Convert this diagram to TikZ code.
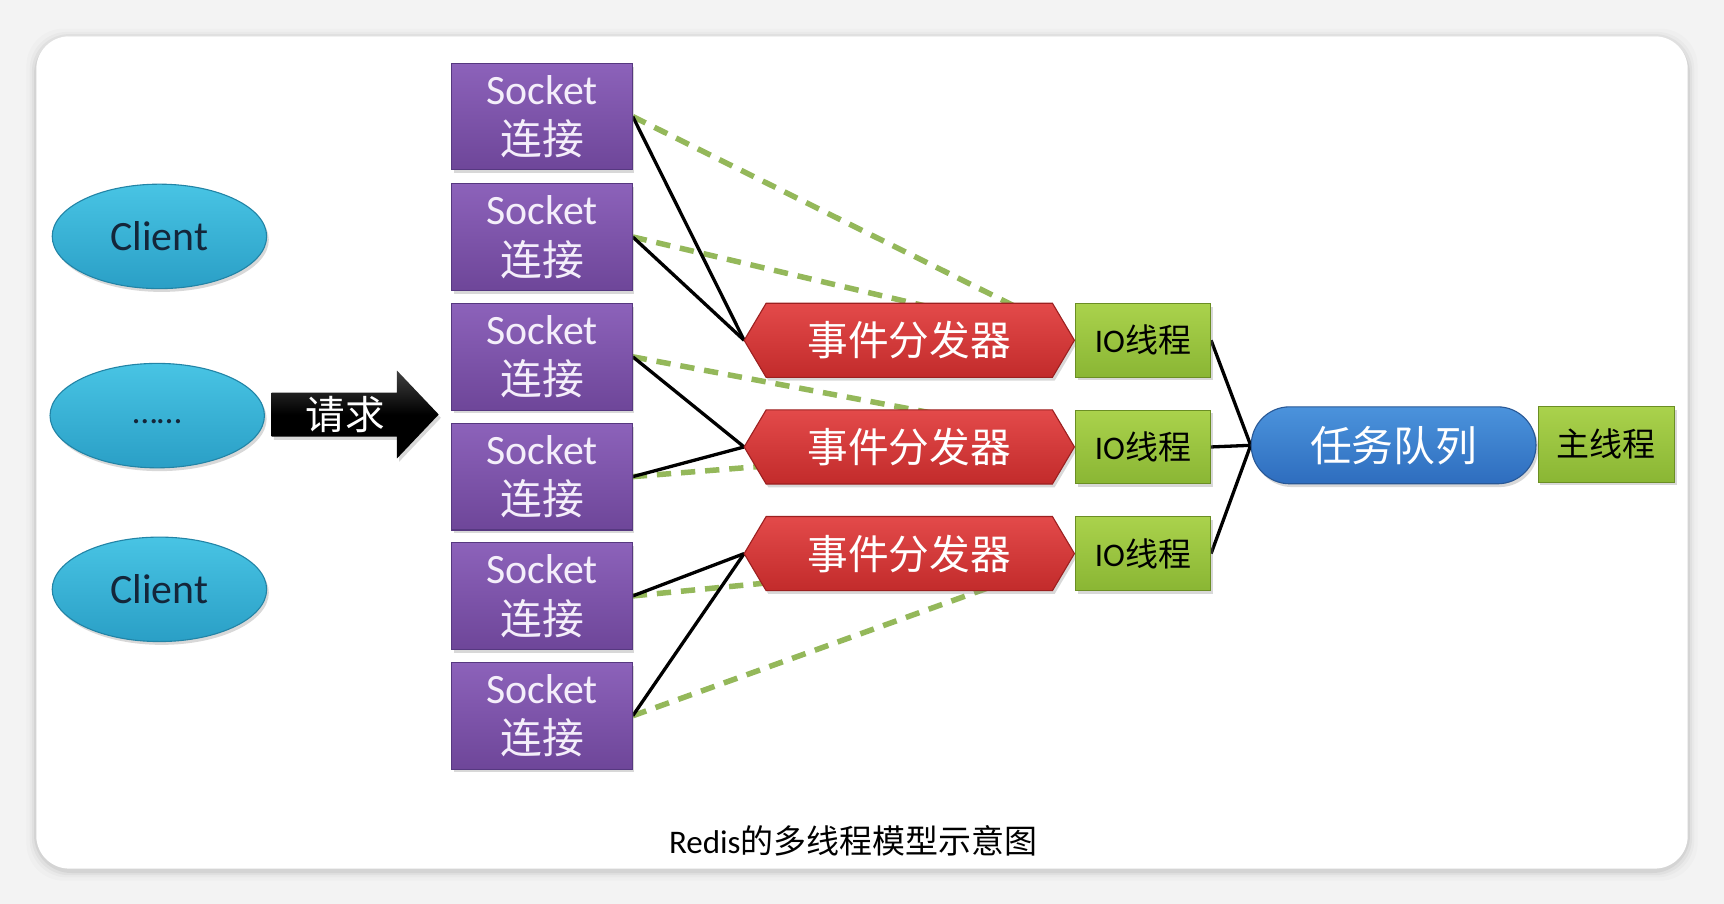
\documentclass[tikz,border=0pt]{standalone}
\usepackage{fontspec}
\setmainfont{Carlito}
\newfontfamily\cjk{Noto Sans CJK SC}
\usetikzlibrary{shapes.geometric,shapes.misc,shadows}
\pgfdeclarelayer{bg}
\pgfdeclarelayer{lines}
\pgfdeclarelayer{shapes}
\pgfsetlayers{bg,lines,shapes,main}
\definecolor{pagebg}{HTML}{F3F3F3}
\definecolor{cyanT}{HTML}{48C4E4}
\definecolor{cyanB}{HTML}{2A9FC6}
\definecolor{cyanD}{HTML}{2284A6}
\definecolor{clientText}{HTML}{14263A}
\definecolor{purT}{HTML}{8C62BA}
\definecolor{purB}{HTML}{6E4699}
\definecolor{purD}{HTML}{563880}
\definecolor{sockText}{HTML}{F4EEFA}
\definecolor{redT}{HTML}{E34A4A}
\definecolor{redB}{HTML}{C22B2B}
\definecolor{redD}{HTML}{9C2020}
\definecolor{grT}{HTML}{AAD24C}
\definecolor{grB}{HTML}{8AB634}
\definecolor{grD}{HTML}{6B8E24}
\definecolor{blT}{HTML}{4B93DC}
\definecolor{blB}{HTML}{2E6DBE}
\definecolor{blD}{HTML}{285896}
\definecolor{dashG}{HTML}{94B85A}
\begin{document}
\begin{tikzpicture}[x=1pt,y=-1pt,
  shd/.style={drop shadow={shadow xshift=2pt,shadow yshift=-3pt,opacity=0.3}},
  client/.style={ellipse,minimum width=195pt,minimum height=95pt,inner sep=0pt,
    top color=cyanT,bottom color=cyanB,draw=cyanD,line width=1pt,shd,
    text=clientText,font=\fontsize{38}{40}\selectfont},
  sockbox/.style={rectangle,minimum width=164pt,minimum height=97pt,inner sep=0pt,
    top color=purT,bottom color=purB,draw=purD,line width=1pt,shd,
    text=sockText,align=center,font=\fontsize{38}{46}\selectfont},
  disptext/.style={minimum width=300pt,minimum height=67pt,inner sep=0pt,
    text=white,font=\cjk\fontsize{37}{40}\selectfont},
  dispshape/.style={top color=redT,bottom color=redB,draw=redD,line width=1pt,shd},
  iobox/.style={rectangle,minimum width=123pt,minimum height=67pt,inner sep=0pt,
    top color=grT,bottom color=grB,draw=grD,line width=1pt,shd,
    text=black,font=\fontsize{30}{32}\selectfont},
  queuebox/.style={rounded rectangle,minimum width=259pt,minimum height=70pt,inner sep=0pt,
    top color=blT,bottom color=blB,draw=blD,line width=1pt,shd,
    text=white,font=\cjk\fontsize{38}{40}\selectfont},
  mainbox/.style={iobox,minimum width=124pt,minimum height=69pt,font=\cjk\fontsize{30}{32}\selectfont},
  reqtext/.style={inner sep=0pt,text=white,font=\cjk\fontsize{36}{40}\selectfont},
  conn/.style={line width=3pt,black},
  greendash/.style={line width=5pt,dashG,dash pattern=on 13pt off 9pt}
]
\useasboundingbox (0,0) rectangle (1568,822);
\begin{pgfonlayer}{bg}
  \fill[pagebg] (0,0) rectangle (1568,822);
  \foreach \e/\o in {9/0.015,6/0.025,4/0.035,2/0.05}
    \fill[black,opacity=\o,rounded corners=34pt] ({33-\e},{33-\e+2}) rectangle ({1535+\e},{790+\e+2});
  \fill[white,rounded corners=30pt] (33,33) rectangle (1535,790);
\end{pgfonlayer}

% clients
\node[client] (c1) at (145,215) {Client};
\node[client,font=\fontsize{32}{34}\selectfont,text height=14pt,text depth=0pt] (c2) at (143,378) {……};
\node[client] (c3) at (145,536) {Client};

% request arrow
\node[reqtext] (rq) at (314,377) {请求};
\begin{pgfonlayer}{shapes}
  \path[top color=black!75,bottom color=black,middle color=black,shd]
    ([shift={(-67pt,20pt)}]rq.center) -- ([shift={(47pt,20pt)}]rq.center)
    -- ([shift={(47pt,40pt)}]rq.center) -- ([shift={(85pt,0pt)}]rq.center)
    -- ([shift={(47pt,-40pt)}]rq.center) -- ([shift={(47pt,-20pt)}]rq.center)
    -- ([shift={(-67pt,-20pt)}]rq.center) -- cycle;
\end{pgfonlayer}

% sockets
\node[sockbox] (s1) at (493,106)   {Socket\\{\cjk 连接}};
\node[sockbox] (s2) at (493,215.5) {Socket\\{\cjk 连接}};
\node[sockbox] (s3) at (493,324.5) {Socket\\{\cjk 连接}};
\node[sockbox] (s4) at (493,433.5) {Socket\\{\cjk 连接}};
\node[sockbox] (s5) at (493,542)   {Socket\\{\cjk 连接}};
\node[sockbox] (s6) at (493,651)   {Socket\\{\cjk 连接}};

% dispatchers
\node[disptext] (d1) at (827,309.5) {事件分发器};
\node[disptext] (d2) at (827,406.5) {事件分发器};
\node[disptext] (d3) at (827,503.5) {事件分发器};
\begin{pgfonlayer}{shapes}
  \foreach \d in {d1,d2,d3}
    \path[dispshape] (\d.west) -- ([xshift=20pt]\d.north west) -- ([xshift=-20pt]\d.north east)
      -- (\d.east) -- ([xshift=-20pt]\d.south east) -- ([xshift=20pt]\d.south west) -- cycle;
\end{pgfonlayer}

% IO threads
\node[iobox] (io1) at (1039.5,309.5) {IO{\cjk 线程}};
\node[iobox] (io2) at (1039.5,406.5) {IO{\cjk 线程}};
\node[iobox] (io3) at (1039.5,503.5) {IO{\cjk 线程}};

% queue and main thread
\node[queuebox] (q) at (1267.5,405) {任务队列};
\node[mainbox] (m) at (1461,404) {主线程};

% caption
\node[inner sep=0pt,text=black,font=\fontsize{30}{32}\selectfont] (cap) at (776,765) {Redis{\cjk 的多线程模型示意图}};

% dashed endpoints (hidden under dispatchers)
\coordinate (g1) at (930,282);
\coordinate (g2) at (870,285);
\coordinate (g3) at (860,378);
\coordinate (g4) at (720,422);
\coordinate (g5) at (720,528);
\coordinate (g6) at (920,527);

\begin{pgfonlayer}{lines}
  \draw[greendash] (s1.east) -- (g1);
  \draw[greendash] (s2.east) -- (g2);
  \draw[greendash] (s3.east) -- (g3);
  \draw[greendash] (s4.east) -- (g4);
  \draw[greendash] (s5.east) -- (g5);
  \draw[greendash] (s6.east) -- (g6);
  \draw[conn] (s1.east) -- (d1.west);
  \draw[conn] (s2.east) -- (d1.west);
  \draw[conn] (s3.east) -- (d2.west);
  \draw[conn] (s4.east) -- (d2.west);
  \draw[conn] (s5.east) -- (d3.west);
  \draw[conn] (s6.east) -- (d3.west);
  \draw[conn] (io1.east) -- (q.west);
  \draw[conn] (io2.east) -- (q.west);
  \draw[conn] (io3.east) -- (q.west);
\end{pgfonlayer}
\end{tikzpicture}
\end{document}
